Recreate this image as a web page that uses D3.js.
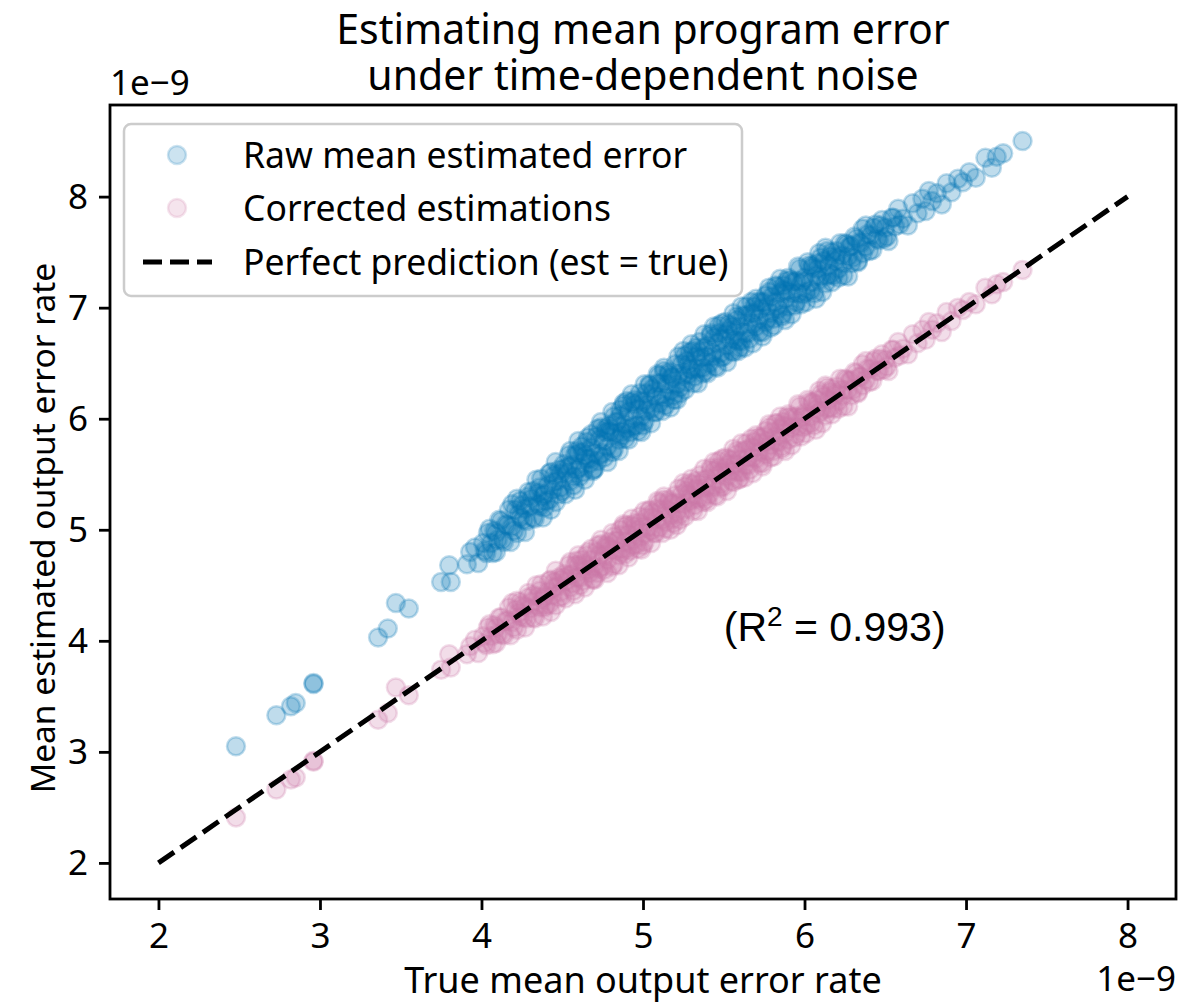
<!DOCTYPE html>
<html>
<head>
<meta charset="utf-8">
<script src="https://cdn.jsdelivr.net/npm/d3@7/dist/d3.min.js"></script>
<style>
  body { margin: 0; background: #fff; }
  svg text { font-family: "Noto Sans", "DejaVu Sans", sans-serif; fill: #000; }
</style>
</head>
<body>
<div id="chart"></div>
<script>
const width = 1194;
const height = 1003;

// true mean output error rate (x 1e-9), one entry per program
const trueRate = [
  2.48, 2.73, 2.82, 2.85, 2.96, 2.96, 3.36, 3.42, 3.47, 3.55, 3.75, 3.81, 3.80, 3.93,
  3.91, 3.96, 3.98,
  4.01, 4.03, 4.05, 4.06, 4.08, 4.09,
  4.10, 4.12, 4.14, 4.15, 4.17, 4.19,
  4.21, 4.22, 4.23, 4.24, 4.26, 4.27, 4.28, 4.29,
  4.30, 4.32, 4.33, 4.35, 4.36, 4.37, 4.38, 4.39,
  4.41, 4.42, 4.43, 4.44, 4.45, 4.46, 4.47, 4.48, 4.49,
  4.50, 4.51, 4.53, 4.54, 4.55, 4.56, 4.57, 4.58, 4.59,
  4.60, 4.61, 4.62, 4.63, 4.64, 4.65, 4.66, 4.67, 4.68, 4.69,
  4.70, 4.71, 4.72, 4.73, 4.74, 4.75, 4.76, 4.77, 4.78, 4.79,
  4.80, 4.81, 4.82, 4.83, 4.84, 4.85, 4.86, 4.87, 4.88, 4.89,
  4.90, 4.91, 4.92, 4.93, 4.94, 4.95, 4.96, 4.97, 4.98, 4.99,
  5.00, 5.01, 5.02, 5.03, 5.04, 5.05, 5.06, 5.07, 5.08, 5.09,
  5.10, 5.11, 5.12, 5.13, 5.14, 5.15, 5.16, 5.17, 5.18, 5.19,
  5.20, 5.21, 5.22, 5.23, 5.24, 5.25, 5.26, 5.27, 5.28, 5.29,
  5.30, 5.31, 5.32, 5.33, 5.34, 5.35, 5.36, 5.37, 5.38, 5.39,
  5.40, 5.41, 5.42, 5.43, 5.44, 5.45, 5.46, 5.47, 5.48, 5.49,
  5.50, 5.51, 5.52, 5.53, 5.54, 5.55, 5.56, 5.57, 5.58, 5.59,
  5.60, 5.61, 5.62, 5.63, 5.64, 5.65, 5.66, 5.67, 5.68, 5.69,
  5.70, 5.71, 5.72, 5.73, 5.74, 5.75, 5.76, 5.77, 5.78, 5.79,
  5.80, 5.81, 5.82, 5.83, 5.84, 5.85, 5.86, 5.87, 5.88, 5.89,
  5.90, 5.91, 5.92, 5.94, 5.95, 5.96, 5.97, 5.98, 5.99,
  6.00, 6.01, 6.03, 6.04, 6.05, 6.06, 6.07, 6.08, 6.09,
  6.10, 6.12, 6.13, 6.14, 6.15, 6.16, 6.17, 6.18, 6.19,
  6.20, 6.21, 6.23, 6.24, 6.25, 6.27, 6.28, 6.29,
  6.30, 6.32, 6.33, 6.35, 6.36, 6.38, 6.39,
  6.41, 6.42, 6.44, 6.45, 6.47, 6.49,
  6.50, 6.52, 6.54, 6.56, 6.58,
  6.61, 6.64, 6.67, 6.70, 6.73, 6.75, 6.77, 6.79, 6.82, 6.85, 6.88,
  6.91, 6.95, 6.98, 7.02, 7.06, 7.12, 7.16, 7.19, 7.23, 7.35,
  4.02, 4.04, 4.07, 4.09,
  4.11, 4.13, 4.16, 4.18, 4.19,
  4.20, 4.22, 4.24, 4.25, 4.27, 4.29,
  4.31, 4.32, 4.34, 4.35, 4.36, 4.38, 4.39,
  4.40, 4.42, 4.43, 4.45, 4.46, 4.48, 4.49,
  4.51, 4.52, 4.54, 4.55, 4.57, 4.58, 4.59,
  4.60, 4.61, 4.63, 4.64, 4.65, 4.67, 4.68, 4.69,
  4.70, 4.72, 4.73, 4.74, 4.76, 4.77, 4.78, 4.79,
  4.81, 4.82, 4.83, 4.85, 4.86, 4.87, 4.88, 4.89,
  4.90, 4.91, 4.93, 4.94, 4.95, 4.97, 4.98, 4.99,
  5.00, 5.01, 5.02, 5.04, 5.05, 5.06, 5.08, 5.09,
  5.10, 5.12, 5.13, 5.14, 5.16, 5.17, 5.18, 5.19,
  5.21, 5.22, 5.23, 5.25, 5.26, 5.27, 5.28, 5.29,
  5.30, 5.31, 5.33, 5.34, 5.35, 5.37, 5.38, 5.39,
  5.40, 5.42, 5.43, 5.44, 5.46, 5.47, 5.48, 5.49,
  5.51, 5.52, 5.53, 5.55, 5.56, 5.57, 5.58, 5.59,
  5.60, 5.61, 5.63, 5.64, 5.65, 5.67, 5.68, 5.69,
  5.70, 5.72, 5.73, 5.74, 5.76, 5.77, 5.78, 5.79,
  5.81, 5.82, 5.83, 5.85, 5.86, 5.87, 5.88, 5.89,
  5.90, 5.92, 5.93, 5.95, 5.96, 5.98, 5.99,
  6.01, 6.02, 6.04, 6.05, 6.07, 6.08, 6.09,
  6.10, 6.11, 6.13, 6.14, 6.16, 6.17, 6.19,
  6.21, 6.22, 6.24, 6.26, 6.27, 6.29,
  6.31, 6.33, 6.34, 6.36, 6.38,
  6.40, 6.43, 6.46, 6.48,
  6.51, 6.55, 6.59
];

// raw mean estimated error (x 1e-9), same order
const rawEst = [
  3.05, 3.33, 3.41, 3.44, 3.61, 3.62, 4.03, 4.11, 4.34, 4.29, 4.53, 4.53, 4.68, 4.80,
  4.69, 4.84, 4.70,
  4.88, 4.79, 5.01, 4.88, 4.99, 4.80,
  4.91, 5.08, 4.89, 5.05, 5.18, 5.03,
  5.18, 4.97, 5.14, 5.26, 5.09, 5.19, 5.08, 5.34,
  5.21, 5.35, 5.10, 5.33, 5.21, 5.46, 5.30, 5.20,
  5.40, 5.27, 5.52, 5.36, 5.49, 5.25, 5.44, 5.54, 5.38,
  5.35, 5.55, 5.51, 5.67, 5.44, 5.58, 5.40, 5.67, 5.54,
  5.69, 5.56, 5.75, 5.52, 5.67, 5.64, 5.83, 5.60, 5.74, 5.54,
  5.69, 5.84, 5.62, 5.81, 5.92, 5.69, 5.80, 5.88, 5.75, 5.94,
  5.88, 5.70, 6.02, 5.87, 5.97, 5.81, 6.03, 5.88, 6.12, 5.95,
  5.91, 6.06, 5.88, 6.15, 6.00, 6.13, 5.94, 6.09, 6.23, 6.02,
  6.15, 5.98, 6.23, 6.13, 6.30, 6.09, 6.23, 6.06, 6.20, 6.32,
  6.14, 6.32, 6.22, 6.43, 6.12, 6.31, 6.40, 6.25, 6.38, 6.21,
  6.49, 6.31, 6.40, 6.23, 6.49, 6.39, 6.57, 6.33, 6.49, 6.45,
  6.44, 6.61, 6.38, 6.56, 6.45, 6.69, 6.55, 6.41, 6.64, 6.56,
  6.66, 6.50, 6.75, 6.59, 6.73, 6.47, 6.68, 6.84, 6.59, 6.72,
  6.56, 6.76, 6.66, 6.85, 6.72, 6.83, 6.60, 6.78, 6.92, 6.70,
  6.83, 6.70, 6.93, 6.77, 7.01, 6.85, 6.72, 6.95, 6.85, 7.01,
  6.83, 7.05, 6.90, 6.99, 6.78, 7.05, 6.87, 7.01, 7.14, 6.95,
  7.10, 6.90, 7.05, 7.19, 6.99, 7.13, 6.92, 7.20, 7.08, 7.15,
  7.01, 7.25, 7.13, 7.02, 7.24, 7.13, 7.35, 7.22, 7.12,
  7.27, 7.14, 7.38, 7.23, 7.36, 7.13, 7.29, 7.40, 7.25,
  7.28, 7.42, 7.22, 7.51, 7.38, 7.30, 7.50, 7.29, 7.45,
  7.51, 7.35, 7.47, 7.29, 7.58, 7.46, 7.55, 7.40,
  7.45, 7.62, 7.42, 7.58, 7.71, 7.55, 7.66,
  7.65, 7.52, 7.75, 7.62, 7.74, 7.62,
  7.72, 7.60, 7.81, 7.73, 7.89,
  7.80, 7.74, 7.94, 7.85, 7.98, 7.87, 8.05, 7.96, 8.03, 7.93, 8.12,
  8.04, 8.16, 8.13, 8.22, 8.17, 8.35, 8.26, 8.36, 8.39, 8.50,
  4.81, 4.97, 4.79, 4.97,
  5.09, 4.91, 5.04, 4.89, 5.23,
  4.99, 5.28, 5.11, 5.22, 4.98, 5.30,
  5.28, 5.11, 5.45, 5.23, 5.38, 5.11, 5.32,
  5.26, 5.51, 5.18, 5.43, 5.61, 5.32, 5.51,
  5.59, 5.32, 5.57, 5.71, 5.48, 5.36, 5.71,
  5.80, 5.48, 5.70, 5.45, 5.79, 5.64, 5.86, 5.53,
  5.55, 5.91, 5.67, 5.97, 5.65, 5.91, 5.61, 5.89,
  6.06, 5.73, 5.97, 5.71, 6.08, 5.85, 6.14, 5.82,
  6.16, 5.81, 6.22, 5.93, 6.17, 5.89, 6.16, 5.88,
  5.94, 6.31, 6.07, 6.31, 5.96, 6.27, 6.06, 6.40,
  6.39, 6.07, 6.46, 6.19, 6.42, 6.10, 6.37, 6.17,
  6.17, 6.56, 6.28, 6.61, 6.26, 6.52, 6.40, 6.60,
  6.67, 6.32, 6.64, 6.32, 6.60, 6.46, 6.76, 6.43,
  6.41, 6.77, 6.56, 6.83, 6.46, 6.77, 6.55, 6.86,
  6.87, 6.51, 6.79, 6.61, 6.95, 6.71, 6.89, 6.61,
  6.64, 7.01, 6.64, 6.93, 6.77, 7.05, 6.68, 6.95,
  7.08, 6.78, 7.05, 6.74, 7.11, 6.90, 7.18, 6.82,
  6.84, 7.20, 7.01, 7.26, 6.94, 7.16, 6.89, 7.24,
  7.27, 6.94, 7.23, 7.05, 7.37, 7.03, 7.24,
  7.05, 7.41, 7.16, 7.38, 7.08, 7.35, 7.49,
  7.45, 7.14, 7.54, 7.29, 7.46, 7.23, 7.42,
  7.27, 7.58, 7.40, 7.57, 7.28, 7.56,
  7.64, 7.41, 7.59, 7.49, 7.74,
  7.51, 7.72, 7.61, 7.79,
  7.64, 7.81, 7.75
];

// corrected estimations (x 1e-9), same order
const corrEst = [
  2.41, 2.66, 2.75, 2.77, 2.91, 2.92, 3.29, 3.35, 3.58, 3.51, 3.74, 3.76, 3.88, 3.95,
  3.88, 4.01, 3.89,
  4.04, 3.96, 4.15, 4.04, 4.14, 3.98,
  4.06, 4.21, 4.05, 4.18, 4.30, 4.17,
  4.28, 4.10, 4.25, 4.35, 4.21, 4.31, 4.20, 4.43,
  4.29, 4.41, 4.20, 4.40, 4.30, 4.51, 4.38, 4.30,
  4.44, 4.33, 4.55, 4.41, 4.53, 4.32, 4.49, 4.57, 4.44,
  4.40, 4.57, 4.54, 4.68, 4.48, 4.60, 4.45, 4.68, 4.57,
  4.68, 4.57, 4.73, 4.54, 4.67, 4.64, 4.80, 4.61, 4.73, 4.56,
  4.67, 4.80, 4.61, 4.77, 4.87, 4.67, 4.77, 4.84, 4.73, 4.89,
  4.82, 4.67, 4.94, 4.81, 4.90, 4.77, 4.95, 4.83, 5.03, 4.89,
  4.83, 4.96, 4.81, 5.04, 4.91, 5.03, 4.87, 5.00, 5.12, 4.94,
  5.03, 4.89, 5.11, 5.02, 5.17, 4.99, 5.11, 4.97, 5.09, 5.19,
  5.02, 5.18, 5.09, 5.27, 5.01, 5.18, 5.25, 5.13, 5.24, 5.10,
  5.31, 5.16, 5.24, 5.09, 5.32, 5.23, 5.39, 5.19, 5.32, 5.29,
  5.27, 5.41, 5.22, 5.37, 5.28, 5.49, 5.37, 5.25, 5.45, 5.38,
  5.46, 5.32, 5.54, 5.40, 5.53, 5.31, 5.49, 5.62, 5.41, 5.52,
  5.39, 5.56, 5.48, 5.64, 5.53, 5.63, 5.43, 5.59, 5.71, 5.52,
  5.63, 5.52, 5.71, 5.58, 5.78, 5.65, 5.54, 5.74, 5.65, 5.79,
  5.64, 5.83, 5.70, 5.78, 5.60, 5.84, 5.68, 5.80, 5.92, 5.76,
  5.88, 5.71, 5.84, 5.96, 5.79, 5.91, 5.73, 5.97, 5.87, 5.93,
  5.81, 6.02, 5.92, 5.83, 6.02, 5.93, 6.11, 6.01, 5.92,
  6.05, 5.94, 6.15, 6.02, 6.14, 5.94, 6.08, 6.17, 6.05,
  6.07, 6.20, 6.03, 6.28, 6.17, 6.10, 6.27, 6.09, 6.23,
  6.29, 6.16, 6.26, 6.11, 6.36, 6.26, 6.34, 6.21,
  6.26, 6.41, 6.24, 6.38, 6.49, 6.35, 6.45,
  6.45, 6.34, 6.54, 6.43, 6.54, 6.44,
  6.53, 6.43, 6.62, 6.55, 6.69,
  6.63, 6.58, 6.76, 6.68, 6.80, 6.71, 6.87, 6.80, 6.86, 6.78, 6.96,
  6.88, 7.00, 6.98, 7.05, 7.03, 7.18, 7.12, 7.21, 7.23, 7.34,
  3.98, 4.12, 3.97, 4.12,
  4.21, 4.06, 4.18, 4.05, 4.34,
  4.12, 4.36, 4.22, 4.32, 4.12, 4.39,
  4.35, 4.21, 4.50, 4.32, 4.45, 4.22, 4.40,
  4.32, 4.54, 4.26, 4.48, 4.63, 4.39, 4.55,
  4.60, 4.38, 4.59, 4.71, 4.52, 4.42, 4.72,
  4.77, 4.50, 4.69, 4.48, 4.77, 4.64, 4.83, 4.55,
  4.55, 4.86, 4.65, 4.91, 4.64, 4.86, 4.61, 4.85,
  4.97, 4.69, 4.90, 4.68, 5.00, 4.80, 5.05, 4.78,
  5.04, 4.75, 5.10, 4.86, 5.06, 4.83, 5.06, 4.82,
  4.86, 5.17, 4.97, 5.18, 4.88, 5.15, 4.97, 5.26,
  5.24, 4.97, 5.30, 5.07, 5.27, 5.00, 5.23, 5.06,
  5.04, 5.37, 5.14, 5.42, 5.12, 5.35, 5.25, 5.42,
  5.46, 5.17, 5.44, 5.17, 5.41, 5.29, 5.55, 5.27,
  5.25, 5.56, 5.38, 5.61, 5.30, 5.56, 5.38, 5.64,
  5.65, 5.35, 5.59, 5.44, 5.73, 5.53, 5.68, 5.45,
  5.46, 5.78, 5.47, 5.72, 5.58, 5.82, 5.51, 5.74,
  5.85, 5.60, 5.83, 5.57, 5.89, 5.71, 5.95, 5.65,
  5.66, 5.96, 5.80, 6.02, 5.75, 5.94, 5.71, 6.01,
  6.04, 5.76, 6.01, 5.86, 6.13, 5.84, 6.02,
  5.87, 6.17, 5.96, 6.15, 5.90, 6.13, 6.25,
  6.22, 5.96, 6.30, 6.09, 6.24, 6.04, 6.21,
  6.09, 6.36, 6.21, 6.35, 6.11, 6.35,
  6.42, 6.23, 6.38, 6.30, 6.52,
  6.33, 6.52, 6.43, 6.58,
  6.47, 6.62, 6.57
];

// perfect prediction line endpoints
const idealLine = [2, 8];
const tickValues = [2, 3, 4, 5, 6, 7, 8];

const seriesNames = ['Raw mean estimated error', 'Corrected estimations', 'Perfect prediction (est = true)'];
const r2Label = { x: 5.5, y: 4.0, value: '0.993' };

const blue = '#0072B2';
const pink = '#CC79A7';
const alpha = 0.25;

const margin = { left: 110, right: 1176, top: 105, bottom: 899 };

// 5% padding like matplotlib autoscale
function padded(lo, hi) {
  const p = (hi - lo) * 0.05;
  return [lo - p, hi + p];
}
const xExt = d3.extent(trueRate.concat(idealLine));
const yExt = d3.extent(rawEst.concat(corrEst, idealLine));

const x = d3.scaleLinear().domain(padded(xExt[0], xExt[1])).range([margin.left, margin.right]);
const y = d3.scaleLinear().domain(padded(yExt[0], yExt[1])).range([margin.bottom, margin.top]);

const svg = d3.select('#chart')
  .append('svg')
  .attr('width', width)
  .attr('height', height);

// title
const cx = (margin.left + margin.right) / 2;
const title = svg.append('text')
  .attr('text-anchor', 'middle')
  .attr('font-size', '41px');
title.append('tspan').attr('x', cx).attr('y', 44).text('Estimating mean program error');
title.append('tspan').attr('x', cx).attr('y', 90).text('under time-dependent noise');

// points
const plot = svg.append('g');
const pts = trueRate.map((t, i) => ({ t, raw: rawEst[i], corr: corrEst[i] }));

function scatter(key, color) {
  plot.append('g')
    .selectAll('circle')
    .data(pts)
    .enter()
    .append('circle')
    .attr('cx', d => x(d.t))
    .attr('cy', d => y(d[key]))
    .attr('r', 9)
    .attr('fill', color)
    .attr('fill-opacity', alpha)
    .attr('stroke', color)
    .attr('stroke-opacity', alpha)
    .attr('stroke-width', 2.5);
}
scatter('raw', blue);
scatter('corr', pink);

// y = x line
plot.append('line')
  .attr('x1', x(idealLine[0]))
  .attr('y1', y(idealLine[0]))
  .attr('x2', x(idealLine[1]))
  .attr('y2', y(idealLine[1]))
  .attr('stroke', '#000')
  .attr('stroke-width', 5)
  .attr('stroke-dasharray', '19,8');

// R^2 note
const note = svg.append('text')
  .attr('x', x(r2Label.x))
  .attr('y', y(r2Label.y))
  .attr('font-size', '41px')
  .style('font-family', '"Liberation Sans", Arial, sans-serif');
note.append('tspan').text('(R');
note.append('tspan').attr('dy', -15).attr('font-size', '28px').text('2');
note.append('tspan').attr('dy', 15).text(' = ' + r2Label.value + ')');

// axes
const xAxis = svg.append('g')
  .attr('transform', `translate(0,${margin.bottom})`)
  .call(d3.axisBottom(x).tickValues(tickValues).tickFormat(d3.format('d')).tickSize(11).tickPadding(13));
const yAxis = svg.append('g')
  .attr('transform', `translate(${margin.left},0)`)
  .call(d3.axisLeft(y).tickValues(tickValues).tickFormat(d3.format('d')).tickSize(11).tickPadding(11));

[xAxis, yAxis].forEach(a => {
  a.select('.domain').remove();
  a.selectAll('line').attr('stroke', '#000').attr('stroke-width', 2.8);
  a.selectAll('text').attr('font-size', '35px').attr('fill', '#000')
    .style('font-family', '"Noto Sans", "DejaVu Sans", sans-serif');
});
xAxis.selectAll('text').attr('dy', '0.71em');
yAxis.selectAll('text').attr('dy', '0.34em');

// frame
svg.append('rect')
  .attr('x', margin.left)
  .attr('y', margin.top)
  .attr('width', margin.right - margin.left)
  .attr('height', margin.bottom - margin.top)
  .attr('fill', 'none')
  .attr('stroke', '#000')
  .attr('stroke-width', 2.8);

// offset labels
svg.append('text')
  .attr('x', margin.left)
  .attr('y', 95)
  .attr('font-size', '35px')
  .text('1e\u22129');
svg.append('text')
  .attr('x', margin.right)
  .attr('y', 991)
  .attr('text-anchor', 'end')
  .attr('font-size', '35px')
  .text('1e\u22129');

// axis labels
svg.append('text')
  .attr('x', cx)
  .attr('y', 993)
  .attr('text-anchor', 'middle')
  .attr('font-size', '36px')
  .text('True mean output error rate');
svg.append('text')
  .attr('transform', 'translate(55,528) rotate(-90)')
  .attr('text-anchor', 'middle')
  .attr('font-size', '33.5px')
  .text('Mean estimated output error rate');

// legend
const legend = svg.append('g');
legend.append('rect')
  .attr('x', 124)
  .attr('y', 124)
  .attr('width', 618)
  .attr('height', 172)
  .attr('rx', 7)
  .attr('fill', '#fff')
  .attr('fill-opacity', 0.8)
  .attr('stroke', '#cccccc')
  .attr('stroke-width', 2.5);

const rows = [155, 208, 262];
[blue, pink].forEach((c, i) => {
  legend.append('circle')
    .attr('cx', 177)
    .attr('cy', rows[i])
    .attr('r', 9)
    .attr('fill', c)
    .attr('fill-opacity', 0.2)
    .attr('stroke', c)
    .attr('stroke-opacity', 0.2)
    .attr('stroke-width', 2.5);
});
legend.append('line')
  .attr('x1', 143)
  .attr('x2', 212)
  .attr('y1', rows[2])
  .attr('y2', rows[2])
  .attr('stroke', '#000')
  .attr('stroke-width', 5)
  .attr('stroke-dasharray', '19,8');

legend.selectAll('text.lbl')
  .data(seriesNames)
  .enter()
  .append('text')
  .attr('class', 'lbl')
  .attr('x', 243)
  .attr('y', (d, i) => rows[i])
  .attr('dy', '0.36em')
  .attr('font-size', '35.5px')
  .text(d => d);
</script>
</body>
</html>
